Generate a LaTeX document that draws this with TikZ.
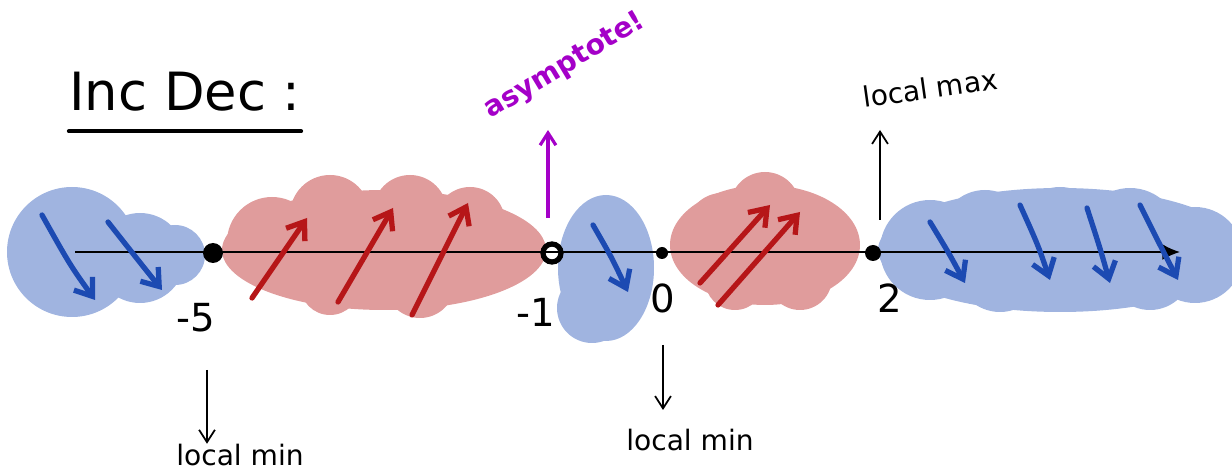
\documentclass[tikz,border=0pt]{standalone}
\usepackage{fontspec}
\setmainfont{DejaVu Sans}
\usetikzlibrary{arrows.meta,positioning}
\definecolor{blobblue}{RGB}{160,180,224}
\definecolor{blobred}{RGB}{224,156,156}
\definecolor{arrblue}{RGB}{28,74,178}
\definecolor{arrred}{RGB}{182,22,24}
\definecolor{asympurple}{RGB}{164,0,200}
\tikzset{
  blueblob/.style={fill=blobblue},
  redblob/.style={fill=blobred},
  decarr/.style={draw=arrblue,line width=3pt,line cap=round,
    -{Straight Barb[length=9pt,width=13pt,line width=3pt]}},
  incarr/.style={draw=arrred,line width=3pt,line cap=round,
    -{Straight Barb[length=9pt,width=13pt,line width=3pt]}},
  notearr/.style={draw=black,line width=1pt,
    -{Straight Barb[length=7pt,width=9pt]}},
  numline/.style={draw=black,line width=1.2pt,-{Latex[length=10pt,width=9pt]}},
  hand/.style={font=\fontsize{16}{18}\selectfont,inner sep=0pt},
  numlab/.style={font=\fontsize{22}{24}\selectfont,inner sep=0pt}
}

\begin{document}
\begin{tikzpicture}[x=0.02cm,y=-0.02cm,>=latex]
\useasboundingbox (0,0) rectangle (1232,476);

% blobs
\fill[blueblob] (72,252) circle[radius=65];
\fill[blueblob] (140,258) circle[radius=45];
\fill[blueblob] (175,255) circle[radius=30];

\fill[redblob] (384,250) ellipse[x radius=162,y radius=60];
\fill[redblob] (330,215) circle[radius=40];
\fill[redblob] (410,212) circle[radius=37];
\fill[redblob] (470,222) circle[radius=35];
\fill[redblob] (272,242) circle[radius=45];
\fill[redblob] (420,283) circle[radius=35];
\fill[redblob] (330,285) circle[radius=30];

\fill[blueblob] (606,268) ellipse[x radius=48,y radius=73];
\fill[blueblob] (592,308) circle[radius=35];

\fill[redblob] (765,245) ellipse[x radius=95,y radius=60];
\fill[redblob] (765,207) circle[radius=35];
\fill[redblob] (722,228) circle[radius=35];
\fill[redblob] (800,278) circle[radius=32];
\fill[redblob] (735,280) circle[radius=30];

\fill[blueblob] (1060,250) ellipse[x radius=182,y radius=62];
\fill[blueblob] (930,250) circle[radius=50];
\fill[blueblob] (985,235) circle[radius=45];
\fill[blueblob] (1060,232) circle[radius=45];
\fill[blueblob] (1130,238) circle[radius=50];
\fill[blueblob] (1195,255) circle[radius=48];
\fill[blueblob] (1000,268) circle[radius=44];
\fill[blueblob] (1150,268) circle[radius=42];

% number line
\coordinate (start) at (75,252);
\coordinate (end) at (1180,252);
\draw[numline] (start) -- (end);

\coordinate (m5) at (213,253);
\coordinate (m1) at (552,253);
\coordinate (z0) at (662,253);
\coordinate (p2) at (873,253);

% decreasing
\draw[decarr] (42,215) .. controls (70,265) .. (95,300);
\draw[decarr] (108,222) .. controls (138,260) .. (162,290);
\draw[decarr] (593,225) .. controls (612,258) .. (628,292);
\draw[decarr] (930,222) .. controls (950,255) .. (965,283);
\draw[decarr] (1020,205) .. controls (1038,245) .. (1050,280);
\draw[decarr] (1087,208) .. controls (1100,248) .. (1110,283);
\draw[decarr] (1140,205) .. controls (1160,245) .. (1178,280);

% increasing
\draw[incarr] (252,298) -- (307,218);
\draw[incarr] (338,302) -- (393,208);
\draw[incarr] (412,315) -- (468,203);
\draw[incarr] (700,283) -- (770,205);
\draw[incarr] (718,305) -- (800,212);

% critical points
\fill (m5) circle[radius=10];
\draw[line width=3pt] (m1) circle[radius=9];
\fill (z0) circle[radius=6];
\fill (p2) circle[radius=8];

\node[numlab] (lm5) at (196,318) {-5};
\node[numlab] (lm1) at (536,312) {-1};
\node[numlab] (l0) at (663,298) {0};
\node[numlab] (l2) at (890,298) {2};

% title
\node[font=\fontsize{30}{34}\selectfont,inner sep=0pt] (title) at (185,92) {Inc Dec :};
\draw[line width=2.5pt,line cap=round] ([yshift=-11pt]title.south west) -- ([yshift=-11pt]title.south east);

% notes
\node[hand,text=asympurple,font=\bfseries\fontsize{16}{18}\selectfont,rotate=31] (asym) at (565,66) {asymptote!};
\coordinate (asymtail) at (548,218);
\coordinate (asymtip) at (548,130);
\draw[notearr,draw=asympurple,line width=1.8pt] (asymtail) -- (asymtip);

\node[hand,rotate=8] (lmax) at (930,88) {local max};
\coordinate (maxtail) at (880,220);
\coordinate (maxtip) at (880,130);
\draw[notearr] (maxtail) -- (maxtip);

\node[hand] (lmin1) at (240,455) {local min};
\coordinate (min1tail) at (207,370);
\draw[notearr] (min1tail) -- (min1tail |- lmin1.north);

\node[hand] (lmin2) at (690,440) {local min};
\coordinate (min2tail) at (663,345);
\coordinate (min2tip) at (663,410);
\draw[notearr] (min2tail) -- (min2tip);

\end{tikzpicture}
\end{document}
